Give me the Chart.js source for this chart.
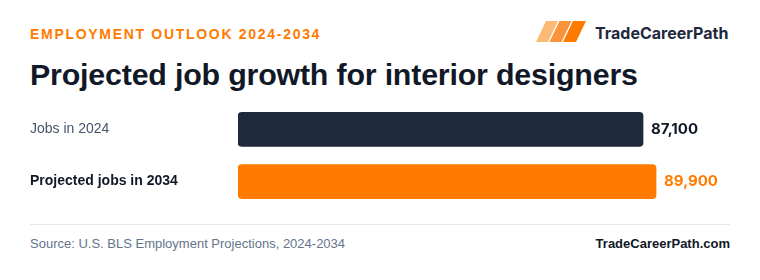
<!DOCTYPE html>
<html><head><meta charset="utf-8">
<script src="https://cdn.jsdelivr.net/npm/chart.js@4"></script>
<style>
html,body{margin:0;padding:0;background:#fff;width:760px;height:280px;overflow:hidden;font-family:"Liberation Sans",Arial,sans-serif;}
#kicker{position:absolute;left:30px;top:26px;font-size:14px;font-weight:bold;letter-spacing:1.7px;color:#ff7b00;}
#title{position:absolute;left:30px;top:57px;font-size:30.4px;font-weight:bold;color:#111827;letter-spacing:-0.2px;}
#logo{position:absolute;left:530px;top:20px;}
#brand{position:absolute;left:595px;top:23px;font-family:Inter,sans-serif;font-size:16px;font-weight:bold;color:#1e293b;}
#wrap{position:absolute;left:0;top:95px;width:760px;height:121px;}
#rule{position:absolute;left:30px;top:224px;width:700px;height:1px;background:#e2e8f0;}
#source{position:absolute;left:30px;top:236px;font-size:13px;color:#64748b;}
#site{position:absolute;right:30px;top:236px;font-size:13px;font-weight:bold;color:#111827;}
</style></head>
<body>
<div id="kicker">EMPLOYMENT OUTLOOK 2024-2034</div>
<div id="title">Projected job growth for interior designers</div>
<svg id="logo" width="60" height="24" viewBox="0 0 60 24">
<polygon points="16,1 28,1 18,22 6,22" fill="#fdba74"/>
<polygon points="29.5,1 41.5,1 31.5,22 19.5,22" fill="#fb923c"/>
<polygon points="43,1 56,1 46,22 33,22" fill="#ff7b00"/>
</svg>
<div id="brand">TradeCareerPath</div>
<div id="wrap"><canvas id="c"></canvas></div>
<div id="rule"></div>
<div id="source">Source: U.S. BLS Employment Projections, 2024-2034</div>
<div id="site">TradeCareerPath.com</div>
<script>
const categories = ["Jobs in 2024", "Projected jobs in 2034"];
const jobs = [87100, 89900];
const valueLabels = ["87,100", "89,900"];
const barColors = ["#1e293b", "#ff7b00"];
const labelColors = ["#111827", "#ff7b00"];

const valuePlugin = {
  id: "valueLabels",
  afterDatasetsDraw(chart) {
    const ctx = chart.ctx;
    const meta = chart.getDatasetMeta(0);
    ctx.save();
    ctx.font = "bold 15px Inter, sans-serif";
    ctx.textBaseline = "middle";
    ctx.textAlign = "left";
    meta.data.forEach((bar, i) => {
      ctx.fillStyle = labelColors[i];
      ctx.fillText(valueLabels[i], bar.x + 8, bar.y);
    });
    ctx.restore();
  }
};

new Chart(document.getElementById("c"), {
  type: "bar",
  data: {
    labels: categories,
    datasets: [{
      data: jobs,
      backgroundColor: barColors,
      borderRadius: 4,
      borderSkipped: false,
      barThickness: 34
    }]
  },
  options: {
    indexAxis: "y",
    responsive: true,
    maintainAspectRatio: false,
    animation: false,
    layout: { padding: { left: 30, right: 30, top: 0, bottom: 0 } },
    plugins: { legend: { display: false }, tooltip: { enabled: false } },
    scales: {
      x: { display: false, min: 0, max: 105800 },
      y: {
        afterFit(s) { s.width = 208; },
        grid: { display: false, drawTicks: false },
        border: { display: false },
        ticks: {
          crossAlign: "far",
          padding: 0,
          color: (c) => c.index === 1 ? "#111827" : "#475569",
          font: (c) => ({ family: "'Liberation Sans', Arial, sans-serif", size: 14, weight: c.index === 1 ? "bold" : "normal" })
        }
      }
    }
  },
  plugins: [valuePlugin]
});
</script>
</body></html>
